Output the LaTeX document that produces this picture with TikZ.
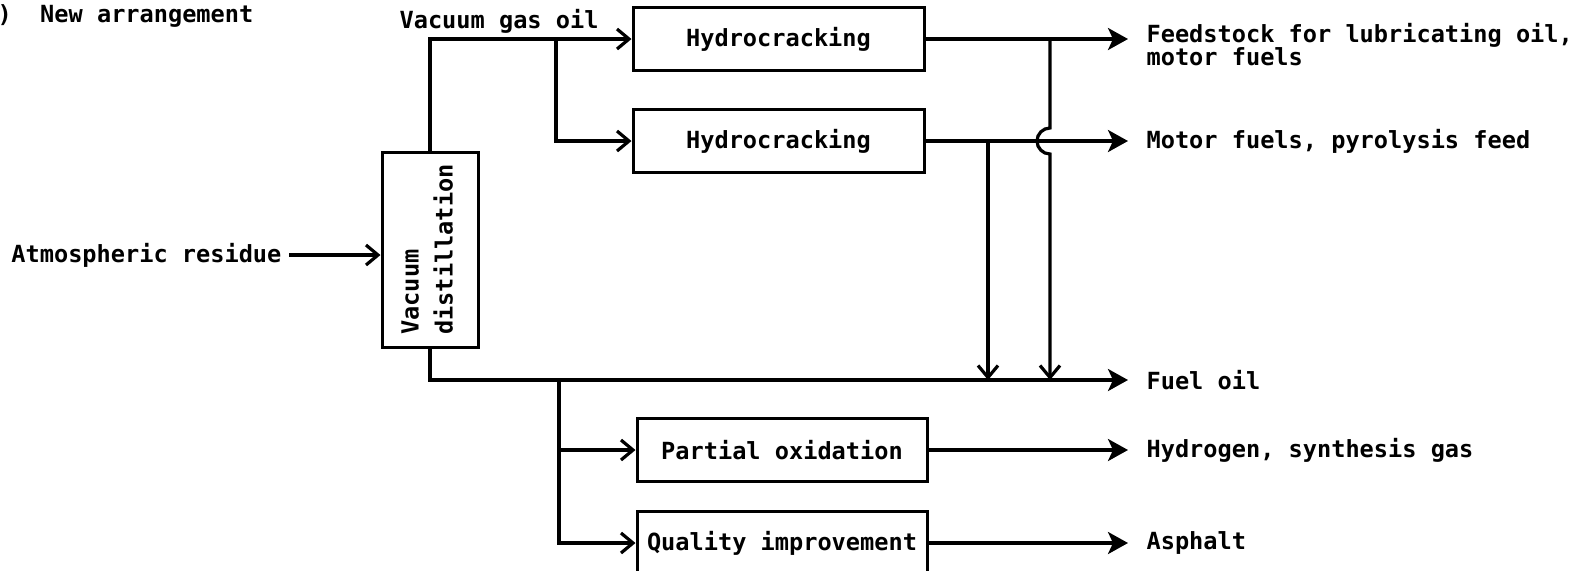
\documentclass[tikz,border=0pt]{standalone}
\usepackage{fontspec}
\setmonofont{DejaVu Sans Mono}
\usepackage{graphicx}
\usetikzlibrary{arrows.meta,calc,positioning}
\newcommand{\plantfont}{\fontsize{11.8}{14}\selectfont\ttfamily\bfseries}
\tikzstyle{unit} = [rectangle, draw=black, line width=1.5pt, inner sep=0, minimum width=145.5pt, minimum height=31.5pt, align=center, font=\plantfont]
\tikzstyle{lbl} = [inner sep=0, font=\plantfont]
\tikzstyle{product} = [anchor=west, inner xsep=8.5pt]
\tikzstyle{feed} = [-{Straight Barb[length=6pt,width=10pt]}]
\tikzstyle{flow} = [-{Stealth[length=10pt,width=11pt,inset=2.5pt]}]

\begin{document}
\begin{tikzpicture}[x=0.5pt,y=-0.5pt,line width=1.6pt]
	\useasboundingbox (0,0) rectangle (1573,570);
	\node[lbl,anchor=base west](title) at (-4,22) {)~~New arrangement};
	
	\node[unit,minimum width=48pt,minimum height=97.5pt](vd) at (430,249.5) {\rotatebox{90}{\begin{tabular}{@{}l@{}}Vacuum\\[3pt]distillation\end{tabular}}};
	\node[lbl,anchor=east,inner xsep=3pt](atm) at (289,255) {Atmospheric residue};
	\draw[feed] (atm.east) -- (atm.east -| vd.west);
	
	\node[unit](hc1) at (778.5,39) {Hydrocracking};
	\node[unit](hc2)[below=18pt of hc1]{Hydrocracking};
	\node[lbl,anchor=base west](vgo) at (398,28) {Vacuum gas oil};
	\draw[feed] (vd.north) |- (hc1.west);
	\coordinate (br1) at (556,39);
	\draw[feed] (br1) |- (hc2.west);
	
	\node[unit,minimum width=145pt](po) at (782,450) {Partial oxidation};
	\node[unit,minimum width=145pt](qi)[below=13.5pt of po]{Quality improvement};
	
	\node[lbl,product,anchor=north west,align=left](lube) at (1128,22) {Feedstock for lubricating oil,\\[-2.5pt]motor fuels};
	\node[lbl,product](motor) at (hc2.east -| lube.west) {Motor fuels, pyrolysis feed};
	\node[lbl,product](fueloil) at (1128,380) {Fuel oil};
	\node[lbl,product](syngas) at (po.east -| lube.west) {Hydrogen, synthesis gas};
	\node[lbl,product](asph) at (qi.east -| lube.west) {Asphalt};
	
	\draw[flow] (vd.south) |- (fueloil.west);
	\coordinate (br2) at (559,380);
	\draw[feed] (br2) |- (po.west);
	\draw[feed] (br2) |- (qi.west);
	
	\draw[flow] (hc1.east) -- (hc1.east -| lube.west);
	\draw[flow] (hc2.east) -- (motor.west);
	\draw[flow] (po.east) -- (syngas.west);
	\draw[flow] (qi.east) -- (asph.west);
	
	\coordinate (br3) at (988,141);
	\draw[feed] (br3) -- (br3 |- fueloil.west);
	\coordinate (br4) at (1050,39);
	\draw[feed] (br4) -- ([yshift=6.5pt]br4 |- hc2.east) arc[start angle=90,end angle=270,radius=6.5pt] -- (br4 |- fueloil.west);
\end{tikzpicture}
\end{document}
